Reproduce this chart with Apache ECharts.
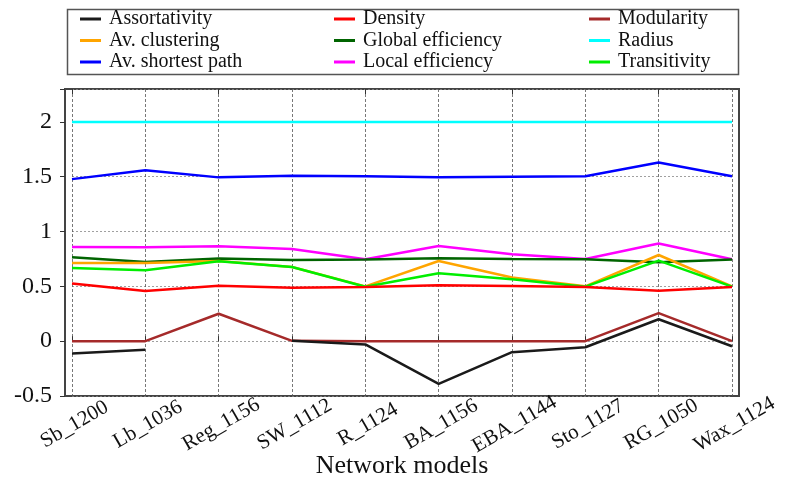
<!DOCTYPE html>
<html>
<head>
<meta charset="utf-8">
<script src="https://cdn.jsdelivr.net/npm/echarts@6/dist/echarts.min.js"></script>
<style>html,body{margin:0;padding:0;background:#fff;}#c{width:787px;height:480px;}</style>
</head>
<body>
<div id="c"></div>
<script>
const categories = ['Sb_1200','Lb_1036','Reg_1156','SW_1112','R_1124','BA_1156','EBA_1144','Sto_1127','RG_1050','Wax_1124'];
const assortativity = [-0.112, -0.079, null, 0.003, -0.03, -0.39, -0.10, -0.055, 0.20, -0.046];
const density = [0.527, 0.457, 0.506, 0.488, 0.494, 0.509, 0.503, 0.494, 0.46, 0.494];
const modularity = [0, 0, 0.25, 0.003, 0, 0, 0, 0, 0.256, 0];
const avClustering = [0.713, 0.713, 0.731, 0.676, 0.5, 0.731, 0.58, 0.5, 0.786, 0.5];
const globalEfficiency = [0.765, 0.722, 0.753, 0.741, 0.744, 0.756, 0.75, 0.747, 0.72, 0.744];
const radius = [2, 2, 2, 2, 2, 2, 2, 2, 2, 2];
const avShortestPath = [1.478, 1.56, 1.494, 1.508, 1.505, 1.494, 1.5, 1.505, 1.63, 1.505];
const localEfficiency = [0.859, 0.856, 0.866, 0.841, 0.747, 0.868, 0.792, 0.75, 0.89, 0.747];
const transitivity = [0.667, 0.646, 0.728, 0.676, 0.497, 0.619, 0.564, 0.497, 0.735, 0.497];
const yTicks = {min: -0.5, max: 2.3, interval: 0.5};

const FONT = 'Liberation Serif';
const seriesDefs = [
  ['Assortativity', assortativity, '#1a1a1a'],
  ['Density', density, '#ff0000'],
  ['Modularity', modularity, '#a52a2a'],
  ['Av. clustering', avClustering, '#ffa500'],
  ['Global efficiency', globalEfficiency, '#006400'],
  ['Radius', radius, '#00ffff'],
  ['Av. shortest path', avShortestPath, '#0000ff'],
  ['Local efficiency', localEfficiency, '#ff00ff'],
  ['Transitivity', transitivity, '#00ee00']
];
const drawOrder = ['Radius','Av. shortest path','Local efficiency','Global efficiency','Av. clustering','Transitivity','Density','Modularity','Assortativity'];

const legendBase = {
  orient: 'vertical', top: 9, padding: 0, itemWidth: 21, itemHeight: 3, itemGap: 1.5, icon: 'rect',
  textStyle: {fontFamily: FONT, fontSize: 20, color: '#111', lineHeight: 20, padding: [0,0,0,3]},
  selectedMode: false
};
const chart = echarts.init(document.getElementById('c'), null, {renderer: 'canvas'});
chart.setOption({
  animation: false,
  backgroundColor: '#fff',
  color: seriesDefs.map(d => d[2]),
  graphic: [{type: 'rect', left: 65, top: 7, shape: {width: 671, height: 65}, style: {fill: 'none', stroke: '#555', lineWidth: 1.5}, silent: true}],
  legend: [
    Object.assign({left: 80, data: ['Assortativity','Av. clustering','Av. shortest path']}, legendBase),
    Object.assign({left: 334, data: ['Density','Global efficiency','Local efficiency']}, legendBase),
    Object.assign({left: 589, data: ['Modularity','Radius','Transitivity']}, legendBase)
  ],
  grid: [
    {left: 65, right: 48, top: 89, bottom: 84, show: true, borderColor: '#444', borderWidth: 2, backgroundColor: 'transparent', containLabel: false, outerBoundsMode: 'none'},
    {left: 72, right: 55, top: 89, bottom: 84, containLabel: false, outerBoundsMode: 'none'}
  ],
  xAxis: [
    {gridIndex: 0, type: 'value', min: 0, max: 1, show: false},
    {gridIndex: 1, type: 'category', data: categories, boundaryGap: false,
     axisLine: {show: false},
     axisTick: {show: true, inside: true, length: 5, lineStyle: {color: '#333'}},
     splitLine: {show: true, lineStyle: {color: '#555', type: [3, 2], width: 0.8}},
     axisLabel: {rotate: 30, fontFamily: FONT, fontSize: 21, color: '#111', margin: 30, align: 'center', verticalAlign: 'middle', hideOverlap: false, padding: [0, 0, 0, 6]},
     name: 'Network models', nameLocation: 'middle', nameGap: 57, nameMoveOverlap: false,
     nameTextStyle: {fontFamily: FONT, fontSize: 26, color: '#111'}},
    {gridIndex: 1, type: 'category', data: categories, boundaryGap: false, position: 'top',
     axisLine: {show: false}, axisLabel: {show: false}, splitLine: {show: false},
     axisTick: {show: true, inside: true, length: 5, lineStyle: {color: '#333'}}}
  ],
  yAxis: [
    {gridIndex: 0, type: 'value', min: yTicks.min, max: yTicks.max, interval: yTicks.interval, position: 'right',
     axisLine: {show: false}, axisLabel: {show: false}, splitLine: {show: false},
     axisTick: {show: true, inside: true, length: 5, lineStyle: {color: '#333'}}},
    {gridIndex: 1, type: 'value', min: yTicks.min, max: yTicks.max, interval: yTicks.interval,
     axisLine: {show: false}, axisTick: {show: false},
     splitLine: {show: true, lineStyle: {color: '#888', type: [2, 2], width: 0.8}},
     axisLabel: {fontFamily: FONT, fontSize: 24, color: '#111', margin: 20, showMaxLabel: false,
       formatter: v => (Math.abs(v - 2.3) < 1e-6 ? '' : String(v))}}
  ],
  series: drawOrder.map(name => {
    const d = seriesDefs.find(s => s[0] === name);
    return {
      name: d[0], type: 'line', data: d[1], xAxisIndex: 1, yAxisIndex: 1,
      showSymbol: false, symbol: 'none', connectNulls: false,
      lineStyle: {width: 2.5, color: d[2]}, itemStyle: {color: d[2]}
    };
  })
});
</script>
</body>
</html>
